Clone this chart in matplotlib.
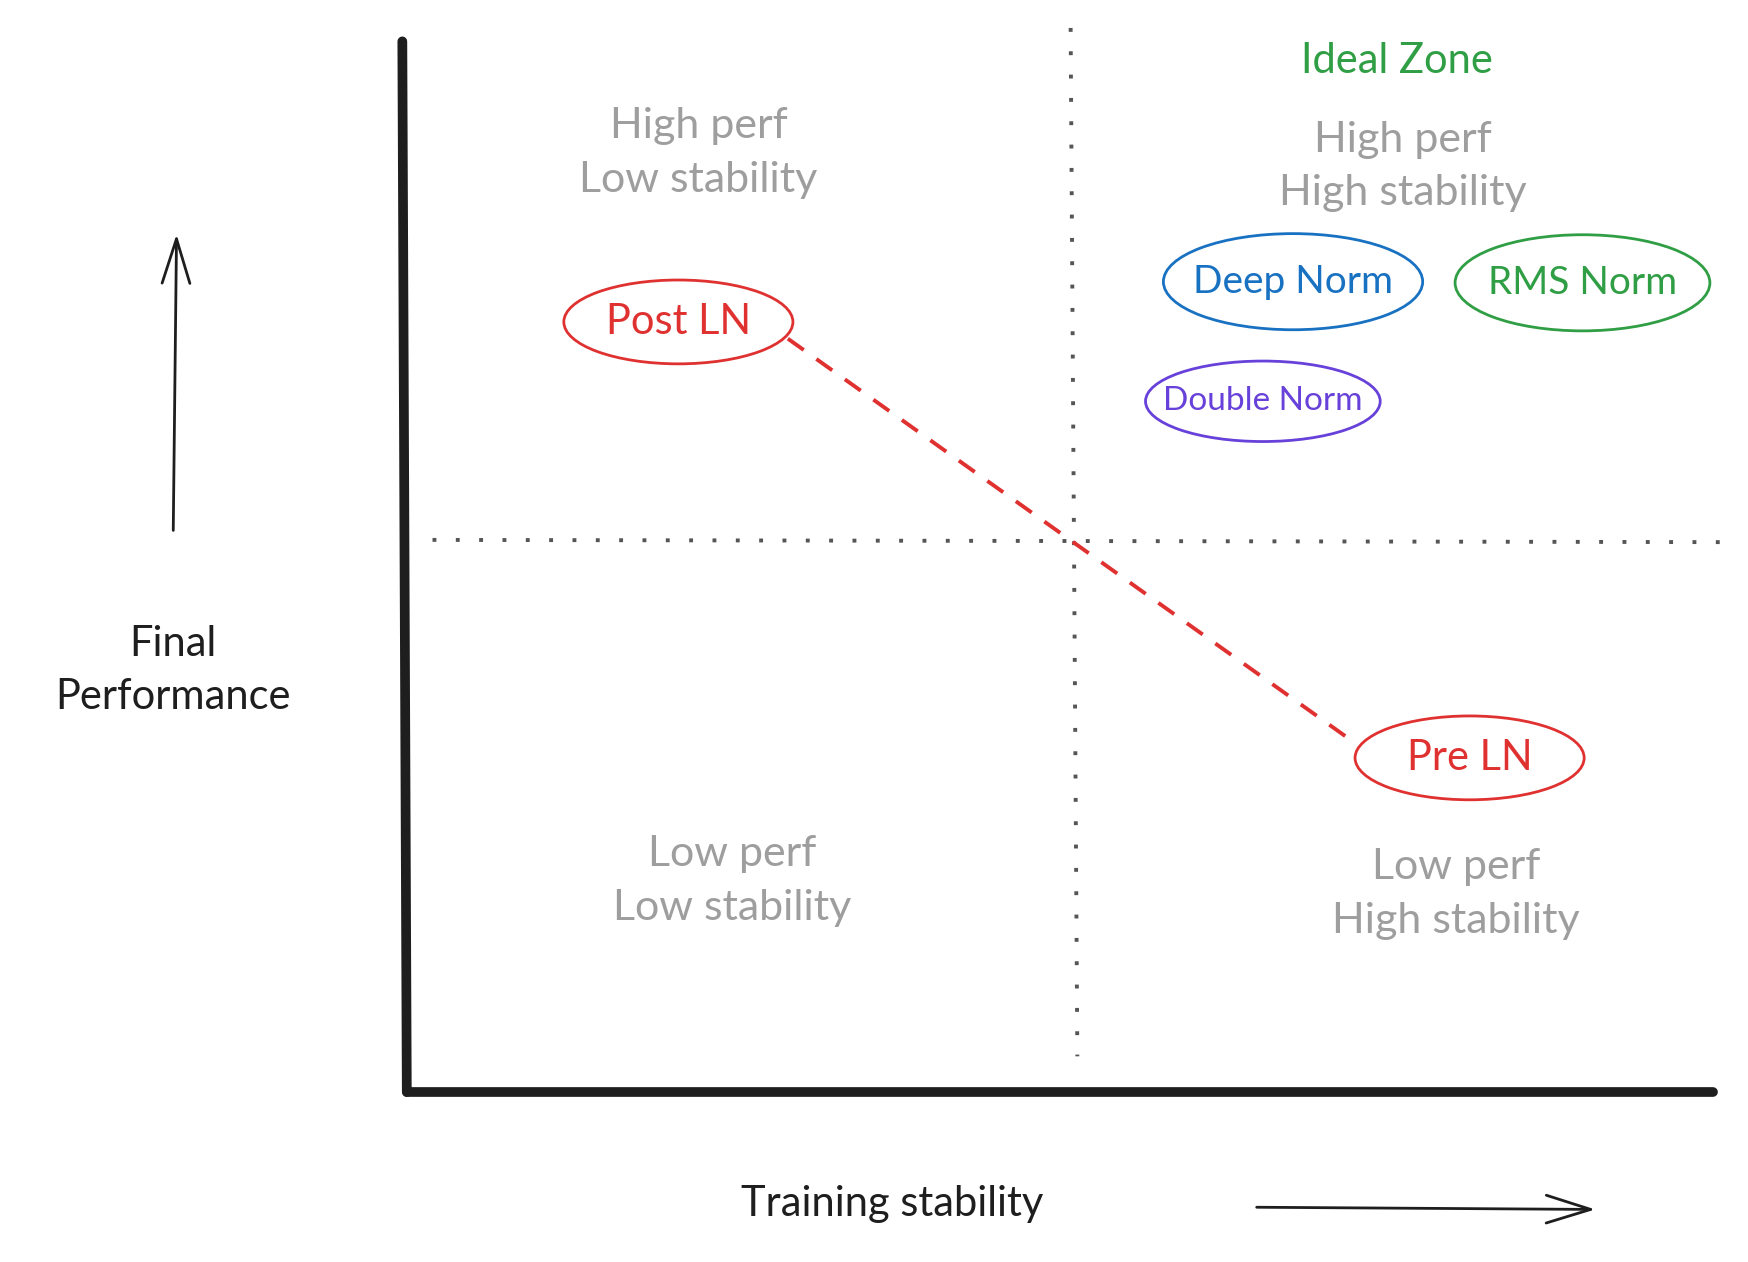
import matplotlib
matplotlib.use("Agg")
import matplotlib.pyplot as plt
from matplotlib.patches import Ellipse

# Data (diagram coordinates in reference layout units)
quad_labels = ["High perf\nLow stability", "High perf\nHigh stability", "Low perf\nLow stability", "Low perf\nHigh stability"]
quad_x = [625, 1255, 655, 1303]
quad_y = [137, 149, 788, 800]
methods = ["Post LN", "Deep Norm", "RMS Norm", "Double Norm", "Pre LN"]
method_x = [607, 1157, 1416, 1130, 1315]
method_y = [288, 252, 253, 359, 678]
method_w = [205, 232, 228, 210, 205]
method_h = [75, 86, 86, 72, 75]
method_colors = ["#e03131", "#1971c2", "#2f9e44", "#6741d9", "#e03131"]
method_fs = [30, 28, 28, 24, 30]

plt.rcParams['font.family'] = ['Lato', 'DejaVu Sans']
fig = plt.figure(figsize=(17.49, 12.62), dpi=100)
ax = fig.add_axes([0, 0, 1, 1])
ax.set_xlim(0, 1565)
ax.set_ylim(1129, 0)
ax.axis('off')

# axes
ax.plot([360, 364], [37, 977], color="#1e1e1e", lw=7, solid_capstyle='round')
ax.plot([364, 1533], [977, 977], color="#1e1e1e", lw=7, solid_capstyle='round')
# quadrant dividers
ax.plot([958, 964], [25, 945], color="#555555", lw=2.8, ls=(0, (1, 5)))
ax.plot([387, 1540], [483, 485], color="#555555", lw=2.8, ls=(0, (1, 5)))
# arrows
ax.annotate("", xy=(158, 207), xytext=(155, 477),
            arrowprops=dict(arrowstyle="->,head_length=3.2,head_width=1.0", color="#1e1e1e", lw=2))
ax.annotate("", xy=(1430, 1082), xytext=(1122, 1080),
            arrowprops=dict(arrowstyle="->,head_length=3.2,head_width=1.0", color="#1e1e1e", lw=2))
ax.text(155, 600, "Final\nPerformance", ha='center', va='center', fontsize=30, color="#1e1e1e", linespacing=1.5)
ax.text(798, 1077, "Training stability", ha='center', va='center', fontsize=30, color="#1e1e1e")

# dashed trend line
ax.plot([method_x[0] + 98, method_x[4] - 105], [method_y[0] + 15, method_y[4] - 15],
        color="#e03131", lw=2.8, ls=(0, (5, 4)))

for lab, x, y in zip(quad_labels, quad_x, quad_y):
    ax.text(x, y, lab, ha='center', va='center', fontsize=31, color="#9e9e9e", linespacing=1.5)
ax.text(1250, 55, "Ideal Zone", ha='center', va='center', fontsize=30, color="#2f9e44")

for m, x, y, w, h, c, fs in zip(methods, method_x, method_y, method_w, method_h, method_colors, method_fs):
    ax.add_patch(Ellipse((x, y), w, h, fill=False, edgecolor=c, lw=2))
    ax.text(x, y, m, ha='center', va='center', fontsize=fs, color=c)

fig.savefig("out.png", dpi=100, facecolor='white')
